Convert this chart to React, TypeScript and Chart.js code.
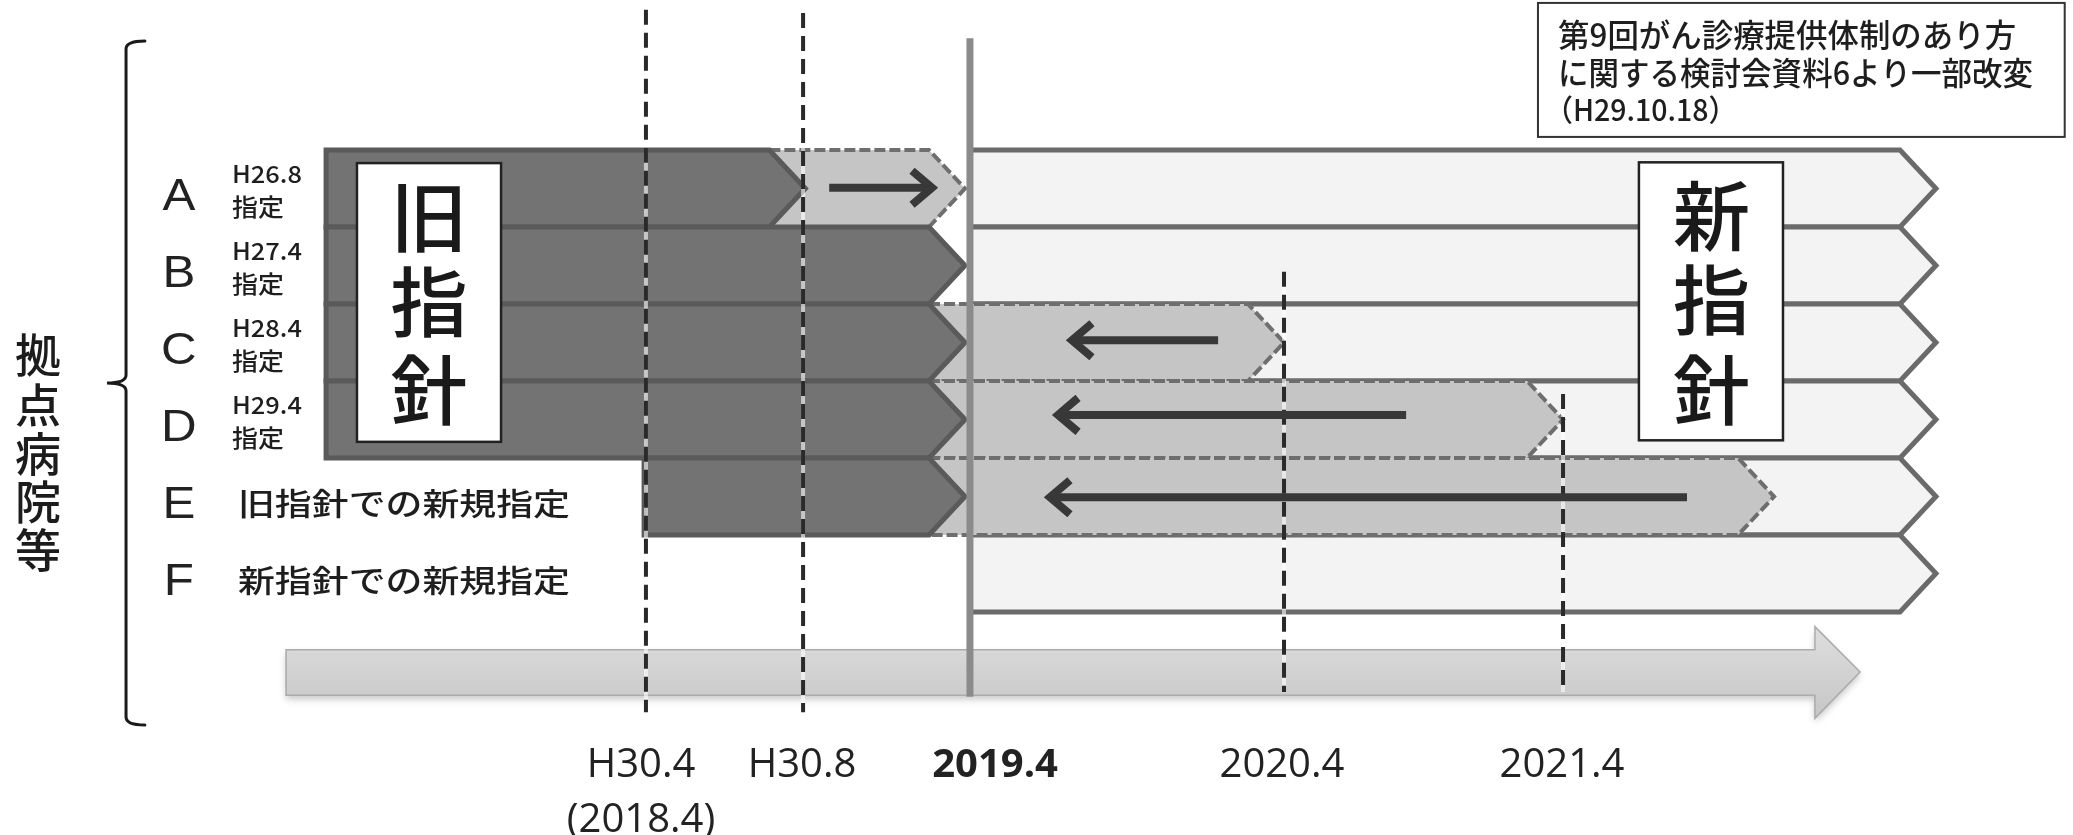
import React, { useEffect, useRef } from 'react';
import { Chart, registerables } from 'chart.js';
Chart.register(...registerables);

const W = 2073;
const H = 835;

// ---------- data (x: schematic timeline units 0..100, y: row index, 0 = top of row A) ----------
const rowLetters = ['A', 'B', 'C', 'D', 'E', 'F'];
const rowNotes: string[][] = [
  ['H26.8', '指定'],
  ['H27.4', '指定'],
  ['H28.4', '指定'],
  ['H29.4', '指定'],
  ['旧指針での新規指定'],
  ['新指針での新規指定'],
];
const oldStart = [15.73, 15.73, 15.73, 15.73, 31.07, null];
const oldEnd = [38.85, 46.55, 46.55, 46.55, 46.55, null];
const transEnd = [46.55, null, 61.94, 75.4, 85.58, null];
const newStart = [46.79, 46.79, 46.79, 46.79, 46.79, 46.79];
const newEnd = [93.39, 93.39, 93.39, 93.39, 93.39, 93.39];
const arrowFrom = [40.0, null, 58.76, 67.83, 81.38, null];
const arrowTo = [44.96, null, 51.71, 51.04, 50.65, null];
const arrowRow = [0.49, null, 2.47, 3.44, 4.51, null];
const markerDates = [31.16, 38.74, 46.79, 61.94, 75.4];
const markerTop = [-1.82, -1.78, -1.45, 1.58, 3.17];
const markerBottom = [7.3, 7.3, 7.1, 7.04, 7.04];
const markerSolid = [false, false, true, false, false];
const tickValues = [30.92, 38.69, 48.0, 61.84, 75.35];
const tickLabels: (string | string[])[] = [['H30.4', '(2018.4)'], 'H30.8', '2019.4', '2020.4', '2021.4'];
const timelineFrom = 13.8;
const timelineTo = 89.73;
const oldLabel = ['旧', '指', '針'];
const newLabel = ['新', '指', '針'];
const sideLabel = ['拠', '点', '病', '院', '等'];
const noteLines = ['第9回がん診療提供体制のあり方', 'に関する検討会資料6より一部改変', '（H29.10.18）'];

// ---------- layout (axis units) ----------
const LAYOUT = {
  yMin: -1.948,
  yMax: 7.532,
  axisHeight: 105,
  tip: 36,
  timeline: { bodyTop: 6.49, bodyBot: 7.08, headTop: 6.19, headBot: 7.38, mid: 6.78, headBase: 87.55 },
  oldBox: { x0: 17.22, x1: 24.17, y0: 0.17, y1: 3.79, cx: 20.7, cy: [0.87, 1.97, 3.12] },
  newBox: { x0: 79.06, x1: 86.01, y0: 0.16, y1: 3.77, cx: 82.56, cy: [0.86, 1.95, 3.12] },
  note: { x0: 74.19, x1: 99.6, y0: -1.91, y1: -0.17, tx: 75.16, tx3: 74.5, ty: [-1.49, -1.0, -0.52] },
  letterX: 8.63,
  letterDy: 0.62,
  noteX: 11.19,
  side: { x: 1.83, y: [2.66, 3.3, 3.94, 4.57, 5.19] },
  brace: { x: 6.08, hook: 6.99, tipX: 5.16, top: -1.416, mid: 3.026, bot: 7.468 },
};

const CJK = '"Noto Sans CJK JP", "Noto Sans", sans-serif';

function chevron(ctx: CanvasRenderingContext2D, xTail: number, xTip: number, yT: number, yB: number, notch: boolean, d: number) {
  const ym = (yT + yB) / 2;
  const xc = notch ? xTail - d : xTail;
  ctx.beginPath();
  ctx.moveTo(xc, yT);
  ctx.lineTo(xTip - d, yT);
  ctx.lineTo(xTip, ym);
  ctx.lineTo(xTip - d, yB);
  ctx.lineTo(xc, yB);
  if (notch) ctx.lineTo(xTail, ym);
  ctx.closePath();
}

function text(ctx: CanvasRenderingContext2D, s: string, x: number, y: number, font: string, align: CanvasTextAlign, sx: number, color = '#1e1e1e', fitW?: number) {
  ctx.save();
  ctx.font = font;
  ctx.fillStyle = color;
  ctx.textBaseline = 'middle';
  ctx.textAlign = align;
  let scale = sx;
  if (fitW) scale = fitW / ctx.measureText(s).width;
  ctx.translate(x, y);
  ctx.scale(scale, 1);
  ctx.fillText(s, 0, 0);
  ctx.restore();
}

const diagramPlugin = {
  id: 'diagram',
  afterDraw(chart: any) {
    const ctx: CanvasRenderingContext2D = chart.ctx;
    const xs = chart.scales.x;
    const ys = chart.scales.y;
    const X = (v: number) => xs.getPixelForValue(v);
    const Y = (v: number) => ys.getPixelForValue(v);
    const D = LAYOUT.tip;
    ctx.save();

    // timeline arrow
    {
      const t = LAYOUT.timeline;
      const x0 = X(timelineFrom), xb = X(t.headBase), xt = X(timelineTo);
      ctx.save();
      ctx.beginPath();
      ctx.moveTo(x0, Y(t.bodyTop));
      ctx.lineTo(xb, Y(t.bodyTop));
      ctx.lineTo(xb, Y(t.headTop));
      ctx.lineTo(xt, Y(t.mid));
      ctx.lineTo(xb, Y(t.headBot));
      ctx.lineTo(xb, Y(t.bodyBot));
      ctx.lineTo(x0, Y(t.bodyBot));
      ctx.closePath();
      const g = ctx.createLinearGradient(0, Y(t.headTop), 0, Y(t.headBot));
      g.addColorStop(0, '#dedede');
      g.addColorStop(0.5, '#d2d2d2');
      g.addColorStop(1, '#c6c6c6');
      ctx.shadowColor = 'rgba(0,0,0,0.22)';
      ctx.shadowBlur = 7;
      ctx.shadowOffsetY = 4;
      ctx.fillStyle = g;
      ctx.fill();
      ctx.shadowColor = 'transparent';
      ctx.strokeStyle = '#ababab';
      ctx.lineWidth = 1.5;
      ctx.stroke();
      ctx.restore();
    }

    // new-guideline bars
    ctx.lineJoin = 'miter';
    for (let r = 0; r < rowLetters.length; r++) {
      chevron(ctx, X(newStart[r]), X(newEnd[r]), Y(r), Y(r + 1), false, D);
      ctx.fillStyle = '#f3f3f3';
      ctx.fill();
      ctx.strokeStyle = '#6a6a6a';
      ctx.lineWidth = 5;
      ctx.setLineDash([]);
      ctx.stroke();
    }

    // transition bars
    for (let r = 0; r < rowLetters.length; r++) {
      const te = transEnd[r];
      const oe = oldEnd[r];
      if (te == null || oe == null) continue;
      chevron(ctx, X(oe), X(te), Y(r), Y(r + 1), true, D);
      ctx.fillStyle = '#c5c5c5';
      ctx.fill();
      ctx.strokeStyle = '#6e6e6e';
      ctx.lineWidth = 4;
      ctx.setLineDash([11, 4]);
      ctx.stroke();
      ctx.setLineDash([]);
    }

    // old-guideline bars
    for (let r = 0; r < rowLetters.length; r++) {
      const os = oldStart[r];
      const oe = oldEnd[r];
      if (os == null || oe == null) continue;
      chevron(ctx, X(os), X(oe), Y(r), Y(r + 1), false, D);
      ctx.fillStyle = '#737373';
      ctx.fill();
      ctx.strokeStyle = '#5a5a5a';
      ctx.lineWidth = 5;
      ctx.stroke();
    }

    // date markers
    for (let i = 0; i < markerDates.length; i++) {
      const x = X(markerDates[i]);
      const y0 = Y(markerTop[i]);
      const y1 = Y(markerBottom[i]);
      ctx.beginPath();
      ctx.moveTo(x, y0);
      ctx.lineTo(x, y1);
      if (markerSolid[i]) {
        ctx.strokeStyle = '#8b8b8b';
        ctx.lineWidth = 7;
        ctx.setLineDash([]);
        ctx.stroke();
      } else {
        ctx.strokeStyle = 'rgba(255,255,255,0.6)';
        ctx.lineWidth = 4;
        ctx.setLineDash([]);
        ctx.stroke();
        ctx.strokeStyle = '#2a2a2a';
        ctx.lineWidth = 4;
        ctx.setLineDash([15, 8]);
        ctx.stroke();
        ctx.setLineDash([]);
      }
    }

    // direction arrows
    for (let r = 0; r < rowLetters.length; r++) {
      const a = arrowFrom[r], b = arrowTo[r], yr = arrowRow[r];
      if (a == null || b == null || yr == null) continue;
      const xa = X(a), xb = X(b), y = Y(yr);
      const dir = xb > xa ? 1 : -1;
      ctx.strokeStyle = '#383838';
      ctx.lineWidth = 8;
      ctx.lineCap = 'butt';
      ctx.lineJoin = 'miter';
      ctx.beginPath();
      ctx.moveTo(xa, y);
      ctx.lineTo(xb - dir * 4, y);
      ctx.stroke();
      ctx.beginPath();
      ctx.moveTo(xb - dir * 20, y - 17);
      ctx.lineTo(xb, y);
      ctx.lineTo(xb - dir * 20, y + 17);
      ctx.stroke();
    }

    // big labels in boxes
    const boxes = [
      { b: LAYOUT.oldBox, chars: oldLabel },
      { b: LAYOUT.newBox, chars: newLabel },
    ];
    for (const { b, chars } of boxes) {
      ctx.fillStyle = '#ffffff';
      ctx.fillRect(X(b.x0), Y(b.y0), X(b.x1) - X(b.x0), Y(b.y1) - Y(b.y0));
      ctx.strokeStyle = '#222';
      ctx.lineWidth = 2.5;
      ctx.strokeRect(X(b.x0), Y(b.y0), X(b.x1) - X(b.x0), Y(b.y1) - Y(b.y0));
      chars.forEach((c, i) => text(ctx, c, X(b.cx), Y(b.cy[i]), `500 76px ${CJK}`, 'center', 1.02, '#1a1a1a'));
    }

    // source note
    {
      const n = LAYOUT.note;
      ctx.fillStyle = '#ffffff';
      ctx.fillRect(X(n.x0), Y(n.y0), X(n.x1) - X(n.x0), Y(n.y1) - Y(n.y0));
      ctx.strokeStyle = '#333';
      ctx.lineWidth = 2;
      ctx.strokeRect(X(n.x0), Y(n.y0), X(n.x1) - X(n.x0), Y(n.y1) - Y(n.y0));
      text(ctx, noteLines[0], X(n.tx), Y(n.ty[0]), `500 32px ${CJK}`, 'left', 1, '#1e1e1e', 458);
      text(ctx, noteLines[1], X(n.tx), Y(n.ty[1]), `500 32px ${CJK}`, 'left', 1, '#1e1e1e', 475);
      text(ctx, noteLines[2], X(n.tx3), Y(n.ty[2]), `500 30px ${CJK}`, 'left', 0.95, '#1e1e1e');
    }

    // row letters and notes
    for (let r = 0; r < rowLetters.length; r++) {
      text(ctx, rowLetters[r], X(LAYOUT.letterX), Y(r + LAYOUT.letterDy), '44px "Liberation Sans", Arial, sans-serif', 'center', 1.12, '#222');
      const notes = rowNotes[r];
      if (notes.length === 2) {
        text(ctx, notes[0], X(LAYOUT.noteX), Y(r + 0.31), `500 24px ${CJK}`, 'left', 1.06);
        text(ctx, notes[1], X(LAYOUT.noteX), Y(r + 0.74), `500 24px ${CJK}`, 'left', 1.08);
      } else {
        text(ctx, notes[0], X(LAYOUT.noteX + 0.29), Y(r + 0.59), `500 31px ${CJK}`, 'left', 1.19);
      }
    }

    // side label
    sideLabel.forEach((c, i) => text(ctx, c, X(LAYOUT.side.x), Y(LAYOUT.side.y[i]), `500 46px ${CJK}`, 'center', 1, '#1c1c1c'));

    // brace
    {
      const b = LAYOUT.brace;
      const bx = X(b.x), hk = X(b.hook), tx = X(b.tipX);
      const yt = Y(b.top), ym = Y(b.mid), yb = Y(b.bot);
      ctx.strokeStyle = '#1a1a1a';
      ctx.lineWidth = 3;
      ctx.lineCap = 'round';
      ctx.beginPath();
      ctx.moveTo(hk, yt);
      ctx.quadraticCurveTo(bx, yt, bx, yt + 8);
      ctx.lineTo(bx, ym - 8);
      ctx.quadraticCurveTo(bx, ym, tx, ym);
      ctx.quadraticCurveTo(bx, ym, bx, ym + 8);
      ctx.lineTo(bx, yb - 8);
      ctx.quadraticCurveTo(bx, yb, hk, yb);
      ctx.stroke();
    }

    ctx.restore();
  },
};

export default function App() {
  const ref = useRef<HTMLCanvasElement | null>(null);
  useEffect(() => {
    const canvas = ref.current;
    if (!canvas) return;
    const chart = new Chart(canvas, {
      type: 'scatter',
      data: { datasets: [] },
      options: {
        animation: false,
        responsive: false,
        maintainAspectRatio: false,
        layout: { padding: 0 },
        plugins: { legend: { display: false }, tooltip: { enabled: false } },
        scales: {
          x: {
            type: 'linear',
            position: 'bottom',
            min: 0,
            max: 100,
            grid: { display: false },
            border: { display: false },
            afterBuildTicks: (axis: any) => {
              axis.ticks = tickValues.map((v) => ({ value: v }));
            },
            afterFit: (axis: any) => {
              axis.height = LAYOUT.axisHeight;
            },
            ticks: {
              autoSkip: false,
              maxRotation: 0,
              minRotation: 0,
              padding: 0,
              color: '#222',
              font: (c: any) => ({
                family: '"Open Sans", "Noto Sans", sans-serif',
                size: 40,
                weight: c.index === 2 ? 'bold' : 'normal',
                lineHeight: 1.38,
              }),
              callback: (_v: any, i: number) => tickLabels[i],
            },
          },
          y: {
            type: 'linear',
            display: false,
            reverse: true,
            min: LAYOUT.yMin,
            max: LAYOUT.yMax,
          },
        },
      },
      plugins: [diagramPlugin],
    } as any);
    return () => chart.destroy();
  }, []);
  return (
    <div style={{ position: 'absolute', left: 0, top: 0, width: W, height: H, background: '#ffffff', overflow: 'hidden' }}>
      <canvas ref={ref} width={W} height={H} style={{ width: W, height: H, display: 'block' }} />
    </div>
  );
}
